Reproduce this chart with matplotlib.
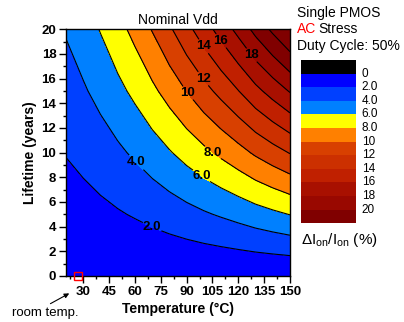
import matplotlib
matplotlib.use("Agg")
import matplotlib.pyplot as plt
import numpy as np
from matplotlib.colors import ListedColormap, BoundaryNorm

plt.rcParams["font.family"] = ["Liberation Sans", "DejaVu Sans"]

# data
temps = [20, 30, 40, 50, 60, 70, 80, 90, 100, 110, 120, 130, 140, 150]   # deg C
lifetimes = [0, 5, 10, 15, 20]                                            # years
delta_ion = [  # dIon/Ion (%), rows = lifetimes, cols = temps
    [0.00, 0.00, 0.00, 0.00, 0.00, 0.00, 0.00, 0.00, 0.00, 0.00, 0.00, 0.00, 0.00, 0.00],
    [1.04, 1.26, 1.53, 1.83, 2.15, 2.53, 2.93, 3.35, 3.78, 4.20, 4.65, 5.15, 5.60, 6.05],
    [2.08, 2.52, 3.05, 3.65, 4.30, 5.05, 5.85, 6.70, 7.55, 8.40, 9.30, 10.3, 11.2, 12.1],
    [3.12, 3.78, 4.58, 5.48, 6.45, 7.58, 8.78, 10.05, 11.33, 12.6, 13.95, 15.45, 16.8, 18.15],
    [4.16, 5.04, 6.10, 7.30, 8.60, 10.1, 11.7, 13.4, 15.1, 16.8, 18.6, 20.6, 22.4, 24.2],
]
fill_levels = [0, 2, 4, 6, 8, 10, 12, 14, 16, 18, 20, 30]
line_levels = [2, 4, 6, 8, 10, 12, 14, 16, 18, 20, 22]
band_colors = ["#0000ff", "#0040ff", "#0080ff", "#ffff00", "#ff8000", "#d84000",
               "#cc3000", "#c02000", "#a81000", "#990800", "#800000"]
under_color = "#000000"
label_fmt = {2: "2.0", 4: "4.0", 6: "6.0", 8: "8.0", 10: "10", 12: "12",
             14: "14", 16: "16", 18: "18"}
label_pos = [(70, 4.0), (60, 9.1), (98, 8.0), (104.6, 9.9), (90.4, 14.8),
             (99.7, 16.0), (99.6, 18.6), (110.4, 19.1), (128.6, 18.0)]
room_temp = 27
cb_ticks = [0, 2, 4, 6, 8, 10, 12, 14, 16, 18, 20]
cb_ticklabels = ["0", "2.0", "4.0", "6.0", "8.0", "10", "12", "14", "16", "18", "20"]

fig = plt.figure(figsize=(4.04, 3.22), dpi=100)
ax = fig.add_axes([66 / 404, 46 / 322, 224 / 404, 246.7 / 322])

T, L = np.meshgrid(temps, lifetimes)
Z = np.array(delta_ion)
ax.contourf(T, L, Z, levels=fill_levels, colors=band_colors)
cs = ax.contour(T, L, Z, levels=line_levels, colors="black", linewidths=0.8)
texts = ax.clabel(cs, levels=list(label_fmt.keys()), fmt=label_fmt, manual=label_pos,
                  inline=True, inline_spacing=1, fontsize=9.5)
for t in texts:
    t.set_fontweight("bold")
    t.set_rotation(0)

ax.plot([room_temp], [0], marker="s", mfc="none", mec="red", ms=6, mew=1, clip_on=False, zorder=5)

ax.set_xlim(20, 150)
ax.set_ylim(0, 20)
ax.set_xticks(np.arange(30, 151, 15))
ax.set_xticks(np.arange(22.5, 150, 7.5), minor=True)
ax.set_yticks(np.arange(0, 21, 2))
ax.set_yticks(np.arange(0, 21, 1), minor=True)
ax.tick_params(which="major", direction="out", length=5, width=1, labelsize=9.5, pad=2)
ax.tick_params(which="minor", direction="out", length=2.5, width=1)
for lab in ax.get_xticklabels() + ax.get_yticklabels():
    lab.set_fontweight("bold")
for sp in ax.spines.values():
    sp.set_linewidth(1)

ax.set_xlabel("Temperature (°C)", fontsize=10, fontweight="bold", labelpad=3)
ax.set_ylabel("Lifetime (years)", fontsize=10, fontweight="bold", labelpad=3)
ax.set_title("Nominal Vdd", fontsize=10, pad=4)

# room temperature pointer
ax.annotate("", xy=(23.3, -1.3), xytext=(48 / 404, 17 / 322), xycoords="data",
            textcoords="figure fraction", annotation_clip=False,
            arrowprops=dict(arrowstyle="-|>", color="black", lw=0.8, mutation_scale=7))
fig.text(12 / 404, 9 / 322, "room temp.", fontsize=9.5, va="center", ha="left")

# colour bar
cax = fig.add_axes([301 / 404, 98.7 / 322, 55 / 404, 163.3 / 322])
cb_colors = [under_color] + band_colors
cb_edges = np.arange(-2, 23, 2)
cb_vals = (cb_edges[:-1] + cb_edges[1:]) / 2
cax.pcolormesh([0, 1], cb_edges, cb_vals.reshape(-1, 1),
               cmap=ListedColormap(cb_colors), norm=BoundaryNorm(cb_edges, len(cb_colors)))
cax.set_ylim(22, -2)
cax.set_xlim(0, 1)
cax.set_xticks([])
cax.yaxis.tick_right()
cax.set_yticks(cb_ticks)
cax.set_yticklabels(cb_ticklabels)
cax.tick_params(axis="y", length=0, pad=4, labelsize=8.5)
for lab in cax.get_yticklabels():
    lab.set_va("center")
for sp in cax.spines.values():
    sp.set_visible(False)

fig.text(301 / 404, (322 - 240) / 322, r"$\mathregular{\Delta I_{on}/I_{on}}$ (%)",
         fontsize=11, va="center", ha="left")

fig.text(297 / 404, (322 - 13) / 322, "Single PMOS", fontsize=10, va="center")
fig.text(297 / 404, (322 - 29) / 322, "AC", color="red", fontsize=10, va="center")
fig.text(318 / 404, (322 - 29) / 322, "Stress", fontsize=10, va="center")
fig.text(297 / 404, (322 - 46) / 322, "Duty Cycle: 50%", fontsize=10, va="center")

fig.savefig("out.png", dpi=100)
